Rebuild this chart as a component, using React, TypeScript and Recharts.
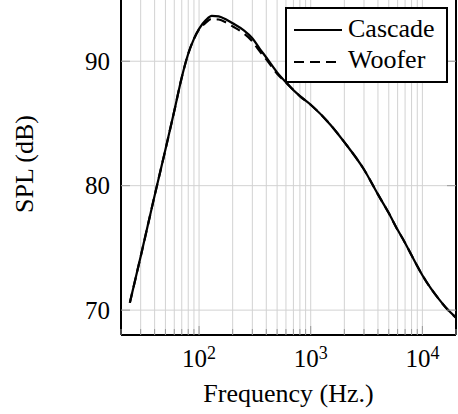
import { LineChart, Line, XAxis, YAxis, CartesianGrid, Legend, Label } from 'recharts';

const freqs = [24, 30, 40, 50, 60, 70, 80, 90, 100, 115, 130, 150, 175, 200, 250, 300, 350, 400, 500, 600, 800, 1000, 1500, 2000, 3000, 4000, 5000, 6000, 7000, 8000, 10000, 12000, 14000, 17000, 20000];
const cascade = [70.6, 74.3, 79.2, 82.9, 86.0, 88.7, 90.6, 91.8, 92.6, 93.3, 93.65, 93.6, 93.35, 93.05, 92.5, 91.85, 91.0, 90.3, 89.1, 88.3, 87.2, 86.5, 84.9, 83.5, 81.3, 79.3, 77.8, 76.45, 75.4, 74.4, 72.8, 71.7, 70.9, 70.0, 69.4];
const woofer = [70.6, 74.3, 79.2, 82.9, 86.0, 88.7, 90.6, 91.8, 92.55, 93.1, 93.4, 93.35, 93.1, 92.8, 92.25, 91.6, 90.8, 90.15, 89.0, 88.3, 87.2, 86.5, 84.9, 83.5, 81.3, 79.3, 77.8, 76.45, 75.4, 74.4, 72.8, 71.7, 70.9, 70.0, 69.4];

const xTicks = [20, 30, 40, 50, 60, 70, 80, 90, 100, 200, 300, 400, 500, 600, 700, 800, 900, 1000, 2000, 3000, 4000, 5000, 6000, 7000, 8000, 9000, 10000, 20000];
const majorX = [100, 1000, 10000];
const yTicks = [70, 80, 90];

const data = freqs.map((f, i) => ({ f, cascade: cascade[i], woofer: woofer[i] }));

const series = [
  { key: 'cascade', name: 'Cascade', dash: undefined as string | undefined },
  { key: 'woofer', name: 'Woofer', dash: '10 6' },
];

const FONT = '"Liberation Serif", "Times New Roman", serif';
const GRID = '#d2d2d2';
const TICK = '#999999';

function BottomTick(p: any) {
  const v = p.payload.value;
  const major = majorX.includes(v);
  return (
    <g>
      <line x1={p.x} x2={p.x} y1={p.y} y2={p.y - (major ? 9 : 6)} stroke={TICK} />
      {major && (
        <text x={p.x} y={p.y + 32} textAnchor="middle" fontFamily={FONT} fontSize={25} fill="#000">
          10<tspan dy={-8} fontSize={18}>{Math.round(Math.log10(v))}</tspan>
        </text>
      )}
    </g>
  );
}

function TopTick(p: any) {
  const major = majorX.includes(p.payload.value);
  return <line x1={p.x} x2={p.x} y1={p.y} y2={p.y + (major ? 9 : 6)} stroke={TICK} />;
}

function LeftTick(p: any) {
  return (
    <g>
      <line x1={p.x} x2={p.x + 9} y1={p.y} y2={p.y} stroke={TICK} />
      <text x={p.x - 11} y={p.y} dy="0.34em" textAnchor="end" fontFamily={FONT} fontSize={25} fill="#000">
        {p.payload.value}
      </text>
    </g>
  );
}

function RightTick(p: any) {
  return <line x1={p.x - 9} x2={p.x} y1={p.y} y2={p.y} stroke={TICK} />;
}

function LegendBox() {
  return (
    <div style={{ boxSizing: 'border-box', width: 163, height: 76, border: '2px solid #000', background: '#fff' }}>
      <svg width={159} height={72} style={{ display: 'block' }}>
        {series.map((s, i) => (
          <g key={s.key}>
            <line x1={7} x2={55} y1={21 + i * 32} y2={21 + i * 32} stroke="#000" strokeWidth={2} strokeDasharray={s.dash} />
            <text x={61} y={28 + i * 31} fontFamily={FONT} fontSize={26} fill="#000">{s.name}</text>
          </g>
        ))}
      </svg>
    </div>
  );
}

export default function App() {
  return (
    <div style={{ position: 'absolute', left: 0, top: 0 }}>
      <LineChart width={458} height={414} data={data} margin={{ top: -1, right: 0, bottom: 0, left: 0 }}>
        <CartesianGrid stroke={GRID} />
        <XAxis
          dataKey="f"
          type="number"
          scale="log"
          domain={[20, 20000]}
          ticks={xTicks}
          interval={0}
          allowDataOverflow
          height={79}
          tickSize={0}
          tickMargin={0}
          tickLine={false}
          axisLine={{ stroke: '#000', strokeWidth: 2 }}
          tick={(p: any) => <BottomTick {...p} />}
        >
          <Label
            content={({ viewBox }: any) => (
              <text x={viewBox.x + viewBox.width / 2} y={viewBox.y + viewBox.height - 12} textAnchor="middle" fontFamily={FONT} fontSize={26} fill="#000">
                Frequency (Hz.)
              </text>
            )}
          />
        </XAxis>
        <XAxis
          xAxisId="top"
          orientation="top"
          dataKey="f"
          type="number"
          scale="log"
          domain={[20, 20000]}
          ticks={xTicks}
          interval={0}
          allowDataOverflow
          height={0}
          tickSize={0}
          tickMargin={0}
          tickLine={false}
          axisLine={false}
          tick={(p: any) => <TopTick {...p} />}
        />
        <YAxis
          domain={[68, 95]}
          ticks={yTicks}
          allowDataOverflow
          width={121}
          tickSize={0}
          tickMargin={0}
          tickLine={false}
          axisLine={{ stroke: '#000', strokeWidth: 2 }}
          tick={(p: any) => <LeftTick {...p} />}
        >
          <Label
            content={({ viewBox }: any) => {
              const cx = viewBox.x + 33;
              const cy = viewBox.y + viewBox.height / 2 - 3;
              return (
                <text x={cx} y={cy} transform={`rotate(-90, ${cx}, ${cy})`} textAnchor="middle" fontFamily={FONT} fontSize={26} fill="#000">
                  SPL (dB)
                </text>
              );
            }}
          />
        </YAxis>
        <YAxis
          yAxisId="right"
          orientation="right"
          domain={[68, 95]}
          ticks={yTicks}
          allowDataOverflow
          width={2}
          tickSize={0}
          tickMargin={0}
          tickLine={false}
          axisLine={{ stroke: '#000', strokeWidth: 2 }}
          tick={(p: any) => <RightTick {...p} />}
        />
        {series.map((s) => (
          <Line
            key={s.key}
            dataKey={s.key}
            name={s.name}
            type="monotone"
            stroke="#000"
            strokeWidth={2.2}
            strokeDasharray={s.dash}
            dot={false}
            activeDot={false}
            isAnimationActive={false}
          />
        ))}
        <Legend
          layout="horizontal"
          verticalAlign="middle"
          align="center"
          wrapperStyle={{ top: 7, left: 285, width: 163, height: 76 }}
          content={() => <LegendBox />}
        />
      </LineChart>
    </div>
  );
}
